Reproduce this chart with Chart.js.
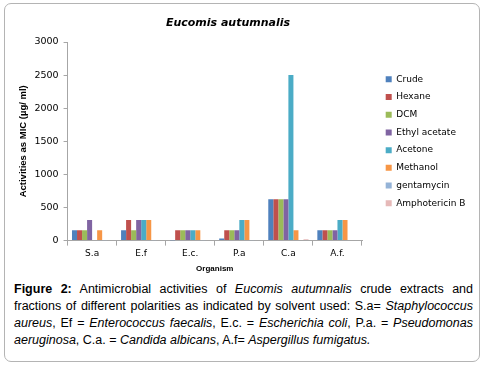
<!DOCTYPE html>
<html>
<head>
<meta charset="UTF-8">
<title>Eucomis autumnalis</title>
<script src="https://cdn.jsdelivr.net/npm/chart.js@4"></script>
<style>
  body { margin:0; background:#fff; width:484px; height:366px; overflow:hidden; font-family:'Liberation Sans',Arial,sans-serif; }
  .box { position:absolute; left:4px; top:3px; width:474px; height:357px; border:1px solid #b4b4b4; border-radius:7px; }
  .wrap { position:absolute; left:0; top:0; width:484px; height:278px; }
  .ttl { position:absolute; left:0; width:456px; top:16px; text-align:center; font:bold italic 11px 'DejaVu Sans',sans-serif; color:#000; }
  .cap { position:absolute; left:14px; top:281px; width:459px; font-size:12.5px; line-height:17px; text-align:justify; color:#000; }
  .cap i { font-style:italic; }
</style>
</head>
<body>
<div class="box"></div>
<div class="wrap"><canvas id="c"></canvas></div>
<div class="ttl">Eucomis autumnalis</div>
<div class="cap"><b>Figure 2:</b> Antimicrobial activities of <i>Eucomis autumnalis</i> crude extracts and fractions of different polarities as indicated by solvent used: S.a= <i>Staphylococcus aureus</i>, Ef = <i>Enterococcus faecalis</i>, E.c. = <i>Escherichia coli</i>, P.a. = <i>Pseudomonas aeruginosa</i>, C.a. = <i>Candida albicans</i>, A.f= <i>Aspergillus fumigatus.</i></div>

<script>
// organisms on the x axis
const organisms = ["S.a","E.f","E.c.","P.a","C.a","A.f."];
// MIC values (µg/ml) per extract / control
const crude      = [156, 156,   3,  30,  625, 156];
const hexane     = [156, 312, 156, 156,  625, 156];
const dcm        = [156, 156, 156, 156,  625, 156];
const ethylAc    = [312, 312, 156, 156,  625, 156];
const acetone    = [  8, 312, 156, 312, 2500, 312];
const methanol   = [156, 312, 156, 312,  156, 312];
const gentamycin = [  5,   5,   5,   5,    0,   0];
const amphoB     = [  0,   0,   0,   0,   20,   8];
const yTicks = [0,500,1000,1500,2000,2500,3000];

const series = [
  ["Crude", crude, "#4F81BD"],
  ["Hexane", hexane, "#C0504D"],
  ["DCM", dcm, "#9BBB59"],
  ["Ethyl acetate", ethylAc, "#8064A2"],
  ["Acetone", acetone, "#4BACC6"],
  ["Methanol", methanol, "#F79646"],
  ["gentamycin", gentamycin, "#95B3D7"],
  ["Amphotericin B", amphoB, "#E6B9B8"]
];

// legend box width fixed so the plot ends where the reference's does,
// then the legend is nudged right to leave the gap seen in the original
const legendFix = {
  id:"legendFix",
  afterInit(chart){
    const lg=chart.legend, fit=lg.fit;
    lg.fit=function(){ fit.call(this); this.width=112; };
  },
  afterLayout(chart){
    chart.legend.left+=15; chart.legend.right+=15;
  }
};

new Chart(document.getElementById("c"),{
  type:"bar",
  data:{
    labels:organisms,
    datasets:series.map(s=>({label:s[0],data:s[1],backgroundColor:s[2],borderWidth:0}))
  },
  options:{
    responsive:true, maintainAspectRatio:false, animation:false,
    categoryPercentage:0.82, barPercentage:1,
    layout:{padding:{top:42,left:18,right:10,bottom:0}},
    plugins:{
      legend:{position:"right",fullSize:false,
        labels:{boxWidth:6,boxHeight:6,padding:8.7,color:"#000",font:{family:"DejaVu Sans",size:9}}},
      tooltip:{enabled:false}
    },
    scales:{
      x:{
        grid:{drawOnChartArea:false,color:"#a6a6a6",tickLength:5},
        border:{color:"#a6a6a6"},
        ticks:{color:"#000",font:{family:"DejaVu Sans",size:9},padding:3},
        title:{display:true,text:"Organism",color:"#000",font:{family:"Liberation Sans",size:8,weight:"bold"},padding:{top:2}}
      },
      y:{
        min:0,max:3000,
        afterBuildTicks:a=>{a.ticks=yTicks.map(v=>({value:v}));},
        grid:{drawOnChartArea:false,color:"#a6a6a6",tickLength:4},
        border:{color:"#a6a6a6"},
        ticks:{color:"#000",font:{family:"DejaVu Sans",size:9.5},padding:5,callback:v=>String(v)},
        title:{display:true,text:"Activities as MIC (µg/ ml)",color:"#000",font:{family:"Liberation Sans",size:9.5,weight:"bold"},padding:{top:0,bottom:0}}
      }
    }
  },
  plugins:[legendFix]
});
</script>
</body>
</html>
